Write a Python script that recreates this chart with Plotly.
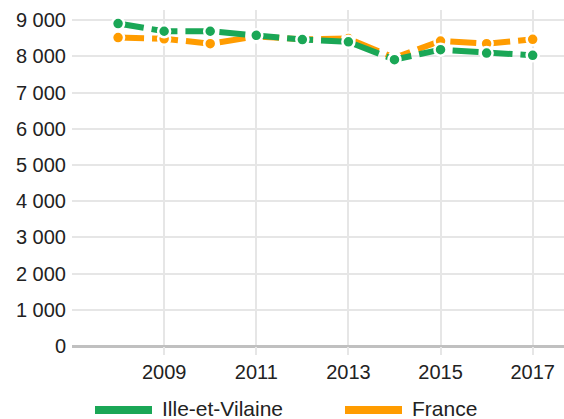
import plotly.graph_objects as go

years = [2008, 2009, 2010, 2011, 2012, 2013, 2014, 2015, 2016, 2017]
ille_et_vilaine = [8906, 8693, 8693, 8580, 8463, 8400, 7909, 8185, 8090, 8027]
france = [8518, 8485, 8350, 8550, 8470, 8490, 7960, 8424, 8350, 8470]
series_names = ["Ille-et-Vilaine", "France"]
x_ticks = [2009, 2011, 2013, 2015, 2017]
y_ticks = [0, 1000, 2000, 3000, 4000, 5000, 6000, 7000, 8000, 9000]
y_tick_labels = ["0", "1 000", "2 000", "3 000", "4 000", "5 000", "6 000", "7 000", "8 000", "9 000"]

GREEN = "#1aa756"
ORANGE = "#ff9c00"
FONT = "Liberation Sans, Arial, sans-serif"

fig = go.Figure()
for name, vals, col in [(series_names[1], france, ORANGE), (series_names[0], ille_et_vilaine, GREEN)]:
    fig.add_trace(go.Scatter(
        x=years, y=vals, name=name, mode="lines+markers",
        line=dict(color=col, width=6, dash="26px,8px"),
        marker=dict(color=col, size=12, line=dict(color="white", width=2.5)),
        showlegend=False,
    ))

# custom legend (bars + text)
legend_items = [(series_names[0], GREEN, 95, 160), (series_names[1], ORANGE, 345, 410)]
L, W, T, H = 72, 492, 10, 336
for name, col, bx, tx in legend_items:
    y_bar = (346 - 410) / H
    y_txt = (346 - 408) / H
    fig.add_shape(type="line", xref="paper", yref="paper",
                  x0=(bx - L) / W, x1=(bx + 57 - L) / W, y0=y_bar, y1=y_bar,
                  line=dict(color=col, width=8))
    fig.add_annotation(xref="paper", yref="paper", x=(tx - L) / W, y=y_txt,
                       text=name, showarrow=False, xanchor="left", yanchor="middle",
                       font=dict(size=21, color="#222", family=FONT))

fig.update_layout(
    width=564, height=419,
    margin=dict(l=L, r=0, t=T, b=419 - T - H),
    paper_bgcolor="white", plot_bgcolor="white",
    font=dict(family=FONT, size=20, color="#222"),
    showlegend=False,
)
fig.update_xaxes(
    range=[2007.0, 2017.68], tickvals=x_ticks, ticktext=[str(v) for v in x_ticks],
    showgrid=True, gridcolor="#e6e6e6", gridwidth=2,
    ticks="outside", ticklen=8, tickwidth=2, tickcolor="#e6e6e6",
    showline=False, zeroline=False,
)
fig.update_yaxes(
    range=[0, 9280], tickvals=y_ticks, ticktext=y_tick_labels,
    showgrid=True, gridcolor="#e6e6e6", gridwidth=2,
    zeroline=True, zerolinecolor="#c0c0c0", zerolinewidth=3,
    ticklabelstandoff=5,
)

fig.write_html("out.html", config={"displayModeBar": False},
               post_script="document.body.style.margin='0';document.body.style.overflow='hidden';")
